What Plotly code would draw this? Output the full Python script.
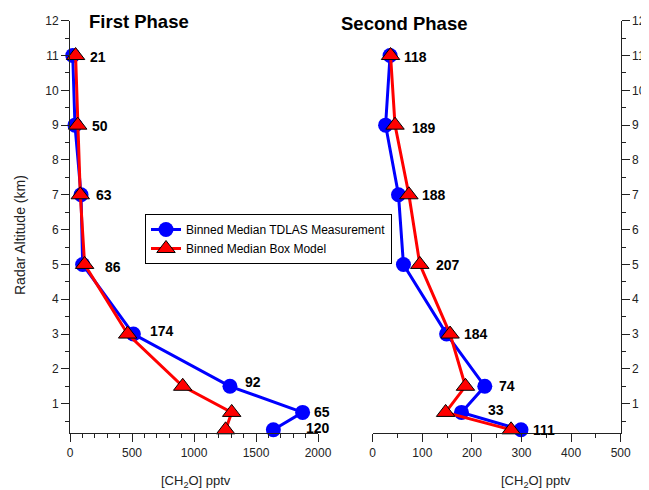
import plotly.graph_objects as go

# ---- data ----
altitude = [11, 9, 7, 5, 3, 1.5, 0.75, 0.25]

phase1_tdlas = [22, 40, 89, 102, 511, 1290, 1876, 1640]
phase1_model = [45, 62, 83, 118, 465, 909, 1304, 1255]
phase1_counts = ["21", "50", "63", "86", "174", "92", "65", "120"]
phase1_label_x = [145, 161, 194, 266, 629, 1395, 1952, 1887]
phase1_label_y = [10.96, 8.97, 6.98, 4.92, 3.08, 1.62, 0.76, 0.3]

phase2_tdlas = [35, 26, 52, 62, 149, 226, 179, 299]
phase2_model = [36, 45, 73, 95, 156, 187, 147, 279]
phase2_counts = ["118", "189", "188", "207", "184", "74", "33", "111"]
phase2_label_x = [60, 75, 95, 124, 181, 250, 228, 319]
phase2_label_y = [10.96, 8.92, 6.98, 4.98, 3.0, 1.5, 0.82, 0.25]

# page body has an 8px margin, so the figure is offset by (8, 8)
OFF = 8
W, H = 649 - OFF, 490 - OFF
FONT = "Liberation Sans, Arial, sans-serif"
INK = "#222222"


def px(sx):
    return (sx - OFF) / W


def py(sy):
    return 1 - (sy - OFF) / H


fig = go.Figure()


def add_phase(xs_meas, xs_model, xa, ya, show):
    fig.add_trace(go.Scatter(
        x=xs_meas, y=altitude, mode="lines+markers", xaxis=xa, yaxis=ya,
        name="Binned Median TDLAS Measurement", showlegend=show,
        line=dict(color="#0000ff", width=3),
        marker=dict(symbol="circle", size=15, color="#0000ff"),
        cliponaxis=False))
    fig.add_trace(go.Scatter(
        x=xs_model, y=altitude, mode="lines+markers", xaxis=xa, yaxis=ya,
        name="Binned Median Box Model", showlegend=show,
        line=dict(color="#ff0000", width=3),
        marker=dict(symbol="triangle-up", size=16, color="#ff0000",
                    line=dict(color="black", width=1)),
        cliponaxis=False))


add_phase(phase1_tdlas, phase1_model, "x", "y", True)
add_phase(phase2_tdlas, phase2_model, "x2", "y2", False)

ann = []
for t, x, y in zip(phase1_counts, phase1_label_x, phase1_label_y):
    ann.append(dict(text=t, x=x, y=y, xref="x", yref="y", xanchor="left",
                    yanchor="middle", showarrow=False,
                    font=dict(family=FONT, size=14, color="black", weight="bold")))
for t, x, y in zip(phase2_counts, phase2_label_x, phase2_label_y):
    ann.append(dict(text=t, x=x, y=y, xref="x2", yref="y2", xanchor="left",
                    yanchor="middle", showarrow=False,
                    font=dict(family=FONT, size=14, color="black", weight="bold")))

ann.append(dict(text="First Phase", x=px(87), y=py(21), xref="paper", yref="paper",
                xanchor="left", yanchor="middle", showarrow=False,
                font=dict(family=FONT, size=18.5, color="black", weight="bold")))
ann.append(dict(text="Second Phase", x=px(339), y=py(24), xref="paper", yref="paper",
                xanchor="left", yanchor="middle", showarrow=False,
                font=dict(family=FONT, size=18.5, color="black", weight="bold")))
ann.append(dict(text="[CH<sub>2</sub>O] pptv", x=px(196), y=py(481), xref="paper",
                yref="paper", xanchor="center", yanchor="middle", showarrow=False,
                font=dict(family=FONT, size=13, color=INK)))
ann.append(dict(text="[CH<sub>2</sub>O] pptv", x=px(536), y=py(481), xref="paper",
                yref="paper", xanchor="center", yanchor="middle", showarrow=False,
                font=dict(family=FONT, size=13, color=INK)))
ann.append(dict(text="Radar Altitude (km)", x=px(20), y=py(235), xref="paper",
                yref="paper", xanchor="center", yanchor="middle", showarrow=False,
                textangle=-90, font=dict(family=FONT, size=14, color=INK)))

x1d = [px(70), px(318)]
x2d = [px(372.7), px(620.7)]
yd = [py(433.3), py(20.7)]

common_axis = dict(showgrid=False, zeroline=False, showline=True, linecolor=INK,
                   linewidth=1, ticks="outside", tickcolor=INK, ticklen=8,
                   automargin=False,
                   tickfont=dict(family=FONT, size=12, color=INK))

fig.update_layout(
    width=W, height=H, margin=dict(l=0, r=0, t=0, b=0, autoexpand=False),
    paper_bgcolor="white", plot_bgcolor="white",
    font=dict(family=FONT, size=12, color="black"),
    xaxis=dict(domain=x1d, anchor="y", range=[0, 2000], dtick=500, tick0=0,
               minor=dict(dtick=100, ticks="outside", ticklen=4, tickcolor=INK),
               **common_axis),
    yaxis=dict(domain=yd, anchor="x", range=[0.15, 12], dtick=1, tick0=0,
               minor=dict(dtick=0.5, ticks="outside", ticklen=4, tickcolor=INK),
               **common_axis),
    xaxis2=dict(domain=x2d, anchor="y2", range=[0, 500], dtick=100, tick0=0,
                minor=dict(dtick=50, ticks="outside", ticklen=4, tickcolor=INK),
                **common_axis),
    yaxis2=dict(domain=yd, anchor="x2", side="right", range=[0.15, 12], dtick=1, tick0=0,
                minor=dict(dtick=0.5, ticks="outside", ticklen=4, tickcolor=INK),
                **common_axis),
    legend=dict(x=px(145), y=py(214), xanchor="left", yanchor="top",
                bgcolor="white", bordercolor="black", borderwidth=1,
                font=dict(family=FONT, size=12, color="black"),
                tracegroupgap=0, itemwidth=30),
    annotations=ann,
    showlegend=True,
)

fig.write_html("out.html")
